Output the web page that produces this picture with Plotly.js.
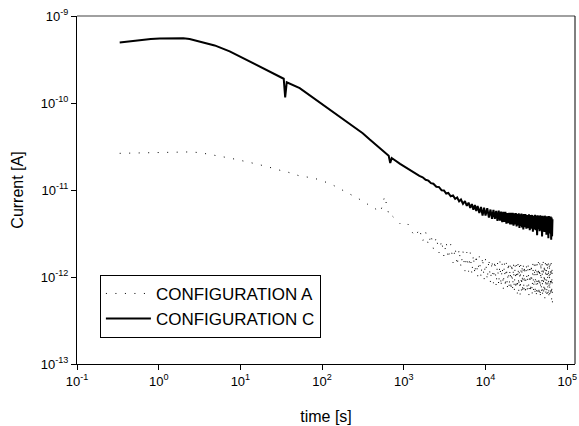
<!DOCTYPE html>
<html>
<head>
<meta charset="utf-8">
<script src="https://cdn.plot.ly/plotly-3.0.1.min.js"></script>
<style>
html,body{margin:0;padding:0;background:#fff;}
#chart{width:579px;height:426px;}
</style>
</head>
<body>
<div id="chart"></div>
<script>
// time [s] (shared sampling of both measurements)
const time = [
  0.333, 0.45, 0.6, 0.8, 1.03, 1.3, 1.61, 2.0, 2.39, 3.17, 4.84, 7.39, 12.3, 19.8, 33.9, 35.3, 36.9, 53.2, 80, 95,
  124, 160, 200, 250, 314, 380, 450, 520, 583, 653, 682, 711, 900, 1100, 1285,
  1400, 1550, 1700, 1850, 2000, 2150, 2300, 2500, 2700, 2900, 3100, 3300, 3500, 3750, 4000, 4250, 4500, 4750, 5000,
  5300, 5600, 5900, 6200, 6500, 6800, 7100, 7400, 7700, 8000, 8400, 8800, 9200, 9600, 10000,
  10500, 11000, 11500, 12000, 12500, 13000, 13500, 14000, 14500, 15000, 15500, 16000, 16500, 17000, 17500, 18000,
  18500, 19000, 19500, 20000, 20500, 21000, 21500, 22000, 22500, 23000, 23500, 24000, 24500, 25000, 25500, 26000,
  26500, 27000, 27500, 28000, 28500, 29000, 29500, 30000,
  30800, 31600, 32400, 33200, 34000, 34800, 35600, 36400, 37200, 38000, 38800, 39600, 40400, 41200, 42000, 42800,
  43600, 44400, 45200, 46000, 46800, 47600, 48400, 49200, 50000, 50800, 51600, 52400, 53200, 54000, 54800, 55600,
  56400, 57200, 58000, 58800, 59600, 60400, 61200, 62000, 62800, 63600, 64400, 65200, 66000
];

// current of configuration A [pA]
const currentA_pA = [
  26.4, 26.6, 26.8, 27.1, 27.3, 27.5, 27.6, 27.6, 27.4, 26.9, 25.2, 23.3, 21.0, 18.9, 16.4, 16.3, 16.2, 14.5, 13.7, 12.9,
  11.9, 10.5, 9.4, 8.39, 7.48, 6.64, 6.05, 5.61, 8.5, 5.3, 4.9, 5.1, 4.1, 4.2, 3.2,
  2.92, 3.61, 2.56, 3.29, 2.31, 3.09, 2.12, 2.89, 1.89, 2.64, 1.71, 2.53, 1.62, 2.38, 1.46, 2.18, 1.35, 2.10, 1.30,
  1.98, 1.17, 1.92, 1.16, 1.90, 1.07, 1.80, 1.07, 1.81, 1.00, 1.72, 0.99, 1.70, 0.92, 1.62,
  0.92, 1.62, 0.85, 1.56, 0.85, 1.56, 0.78, 1.50, 0.80, 1.53, 0.77, 1.46, 0.73, 1.49, 0.76, 1.45,
  0.73, 1.48, 0.74, 1.39, 0.70, 1.44, 0.72, 1.41, 0.68, 1.43, 0.72, 1.37, 0.65, 1.44, 0.69, 1.38,
  0.63, 1.43, 0.70, 1.35, 0.65, 1.43, 0.68, 1.36,
  0.63, 1.41, 0.67, 1.44, 0.60, 1.38, 0.66, 1.42, 0.62, 1.46, 0.68, 1.41, 0.62, 1.45, 0.59, 1.43,
  0.67, 1.48, 0.61, 1.43, 0.57, 1.48, 0.65, 1.44, 0.60, 1.49, 0.64, 1.41, 0.57, 1.48, 0.66, 1.45,
  0.60, 1.50, 0.63, 1.44, 0.58, 1.47, 0.62, 1.42, 0.60, 1.45, 0.55, 1.30, 0.46
];

// current of configuration C [pA]
const currentC_pA = [
  497, 515, 531, 543, 552, 557, 560, 556, 545, 510, 459, 392, 309, 244, 190, 116, 173, 148, 113, 101,
  84.8, 71.3, 61.1, 52.6, 45.0, 38.3, 33.7, 29.6, 27.0, 24.8, 20.4, 23.3, 20.0, 17.7, 16.2,
  15.6, 14.5, 14.0, 13.1, 12.8, 12.0, 11.8, 10.9, 10.8, 9.9, 9.88, 9.11, 9.25, 8.48, 8.67, 7.91, 8.20, 7.41, 7.78,
  6.94, 7.43, 6.57, 7.15, 6.24, 6.89, 5.93, 6.71, 5.73, 6.54, 5.45, 6.38, 5.08, 6.27, 5.08,
  6.17, 4.83, 5.96, 4.66, 5.92, 4.65, 5.76, 4.43, 5.79, 4.46, 5.64, 4.26, 5.62, 4.30, 5.60, 4.10,
  5.43, 4.15, 5.48, 4.02, 5.46, 4.02, 5.46, 3.90, 5.38, 4.02, 5.44, 3.80, 5.28, 3.92, 5.38, 3.67,
  5.27, 3.83, 5.37, 3.72, 5.25, 3.53, 5.28, 3.74,
  5.29, 3.58, 5.16, 3.64, 5.26, 3.44, 5.15, 3.60, 5.17, 3.32, 5.06, 3.53, 5.18, 3.44, 5.08, 3.03,
  5.11, 3.54, 5.01, 3.36, 5.12, 3.44, 5.02, 2.92, 5.05, 3.42, 4.95, 3.29, 5.07, 3.45, 4.97, 3.06,
  5.00, 3.35, 4.91, 2.79, 5.02, 3.38, 4.93, 3.16, 4.96, 2.69, 4.83, 2.93, 4.61
];

const seriesNames = ['CONFIGURATION A', 'CONFIGURATION C'];
const xTickVals = [1e-1, 1e0, 1e1, 1e2, 1e3, 1e4, 1e5];
const xTickText = ['10<sup>-1</sup>', '10<sup>0</sup>', '10<sup>1</sup>', '10<sup>2</sup>', '10<sup>3</sup>', '10<sup>4</sup>', '10<sup>5</sup>'];
const yTickVals = [1e-13, 1e-12, 1e-11, 1e-10, 1e-9];
const yTickText = ['10<sup>-13</sup>', '10<sup>-12</sup>', '10<sup>-11</sup>', '10<sup>-10</sup>', '10<sup>-9</sup>'];

const PICO = 1e-12;
const FONT = 'Liberation Sans, Arial, sans-serif';

const traces = [
  {
    x: time, y: currentA_pA.map(v => v * PICO),
    mode: 'lines', name: seriesNames[0],
    line: {color: '#000000', width: 1, dash: '1px,8.5px'}
  },
  {
    x: time, y: currentC_pA.map(v => v * PICO),
    mode: 'lines', name: seriesNames[1],
    line: {color: '#000000', width: 2}
  }
];

const layout = {
  width: 579, height: 426,
  margin: {l: 77, r: 4, t: 16, b: 62},
  paper_bgcolor: '#ffffff', plot_bgcolor: '#ffffff',
  font: {family: FONT, color: '#000000', size: 12},
  showlegend: true,
  legend: {
    x: 0.046, y: 0.256, xanchor: 'left', yanchor: 'top',
    bordercolor: '#000000', borderwidth: 1, bgcolor: '#ffffff',
    itemwidth: 45,
    font: {family: FONT, size: 17, color: '#000000'}
  },
  xaxis: {
    type: 'log', range: [-1, 5.095],
    tickmode: 'array', tickvals: xTickVals, ticktext: xTickText,
    ticks: 'outside', ticklen: 5, tickwidth: 1, tickcolor: '#000000',
    showline: true, linecolor: '#000000', linewidth: 1,
    showgrid: false, zeroline: false,
    tickfont: {family: FONT, size: 13},
    title: {text: 'time [s]', font: {family: FONT, size: 16}}
  },
  yaxis: {
    type: 'log', range: [-13, -9],
    tickmode: 'array', tickvals: yTickVals, ticktext: yTickText,
    ticks: 'outside', ticklen: 5, tickwidth: 1, tickcolor: '#000000',
    showline: true, linecolor: '#000000', linewidth: 1,
    showgrid: false, zeroline: false,
    tickfont: {family: FONT, size: 13},
    title: {text: 'Current [A]', font: {family: FONT, size: 16}, standoff: 13}
  },
  shapes: [
    {type: 'line', xref: 'paper', yref: 'paper', x0: 0, x1: 1, y0: 1, y1: 1, line: {color: '#808080', width: 1.5}},
    {type: 'line', xref: 'paper', yref: 'paper', x0: 1, x1: 1, y0: 0, y1: 1, line: {color: '#000000', width: 1}}
  ]
};

Plotly.newPlot('chart', traces, layout, {staticPlot: true, displayModeBar: false});
</script>
</body>
</html>
